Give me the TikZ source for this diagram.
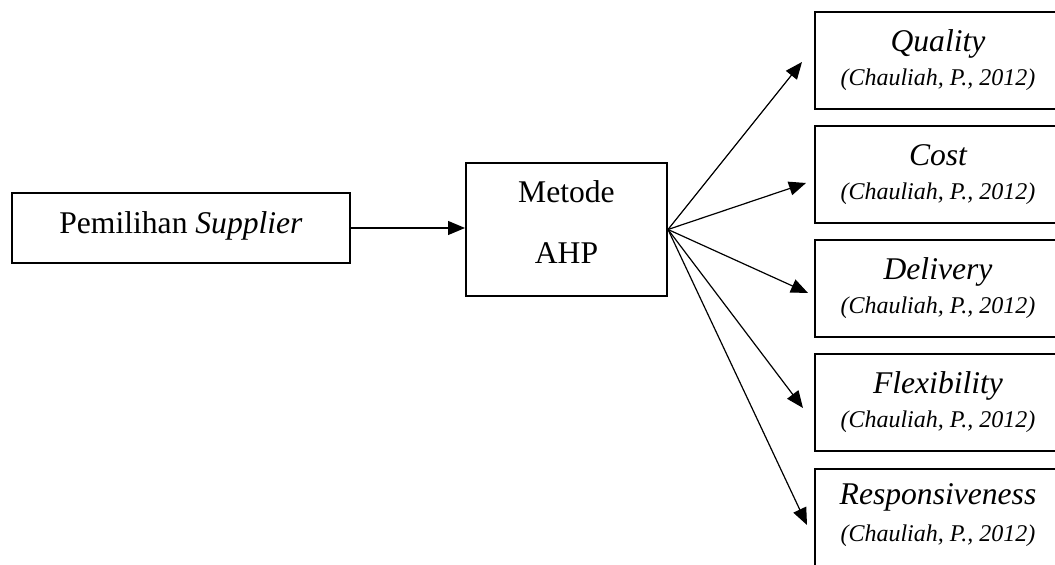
\documentclass[tikz,border=0pt]{standalone}
\usepackage{fontspec}
\setmainfont{Liberation Serif}
\usetikzlibrary{arrows.meta,calc}
\begin{document}
\begin{tikzpicture}[x=0.5pt,y=-0.5pt,
  box/.style={draw=black, line width=1pt, fill=white, inner sep=0pt},
  big/.style={font=\fontsize{15.8}{19}\selectfont, inner sep=0pt, anchor=base},
  small/.style={font=\fontsize{12}{14}\selectfont\itshape, inner sep=0pt, anchor=base},
  conn/.style={line width=0.6pt, -{Triangle[length=8.5pt,width=7pt]}}]
\useasboundingbox (0,0) rectangle (1055,565);
\clip (0,0) rectangle (1055,565);
% left boxes
\node[box, minimum width=169pt, minimum height=35pt] (pem) at (181,228) {};
\node[big] (pemt) at (181,234) {Pemilihan \textit{Supplier}};
\node[box, minimum width=100.5pt, minimum height=66.5pt] (ahp) at (566.5,229.5) {};
\node[big] (ahpt1) at (566.5,203) {Metode};
\node[big] (ahpt2) at (566.5,264) {AHP};
% right boxes
\foreach \n/\c/\t in {q/60.5/Quality, c/174.5/Cost, d/288.5/Delivery, f/402.5/Flexibility}{
  \node[box, minimum width=123pt, minimum height=48.5pt] (\n) at (938,\c) {};
  \node[big, font=\fontsize{15.8}{19}\selectfont\itshape] (\n t) at ($(\n.north)+(0,41)$) {\t};
  \node[small] (\n s) at ($(\n.north)+(0,75)$) {(Chauliah, P., 2012)};
}
\node[box, minimum width=123pt, minimum height=48.5pt] (r) at (938,517.5) {};
\node[big, font=\fontsize{15.8}{19}\selectfont\itshape] (rt) at ($(r.north)+(0,37)$) {Responsiveness};
\node[small] (rs) at ($(r.north)+(0,74)$) {(Chauliah, P., 2012)};
% connectors
\draw[conn] (pem.east) -- (pem.east -| ahp.west);
\draw[conn] (ahp.east) -- ($(q.west)+(-12,1.5)$);
\draw[conn] (ahp.east) -- ($(c.west)+(-8,8.5)$);
\draw[conn] (ahp.east) -- ($(d.west)+(-6,4.5)$);
\draw[conn] (ahp.east) -- ($(f.west)+(-11,5.5)$);
\draw[conn] (ahp.east) -- ($(r.west)+(-7,7.5)$);
\end{tikzpicture}
\end{document}
